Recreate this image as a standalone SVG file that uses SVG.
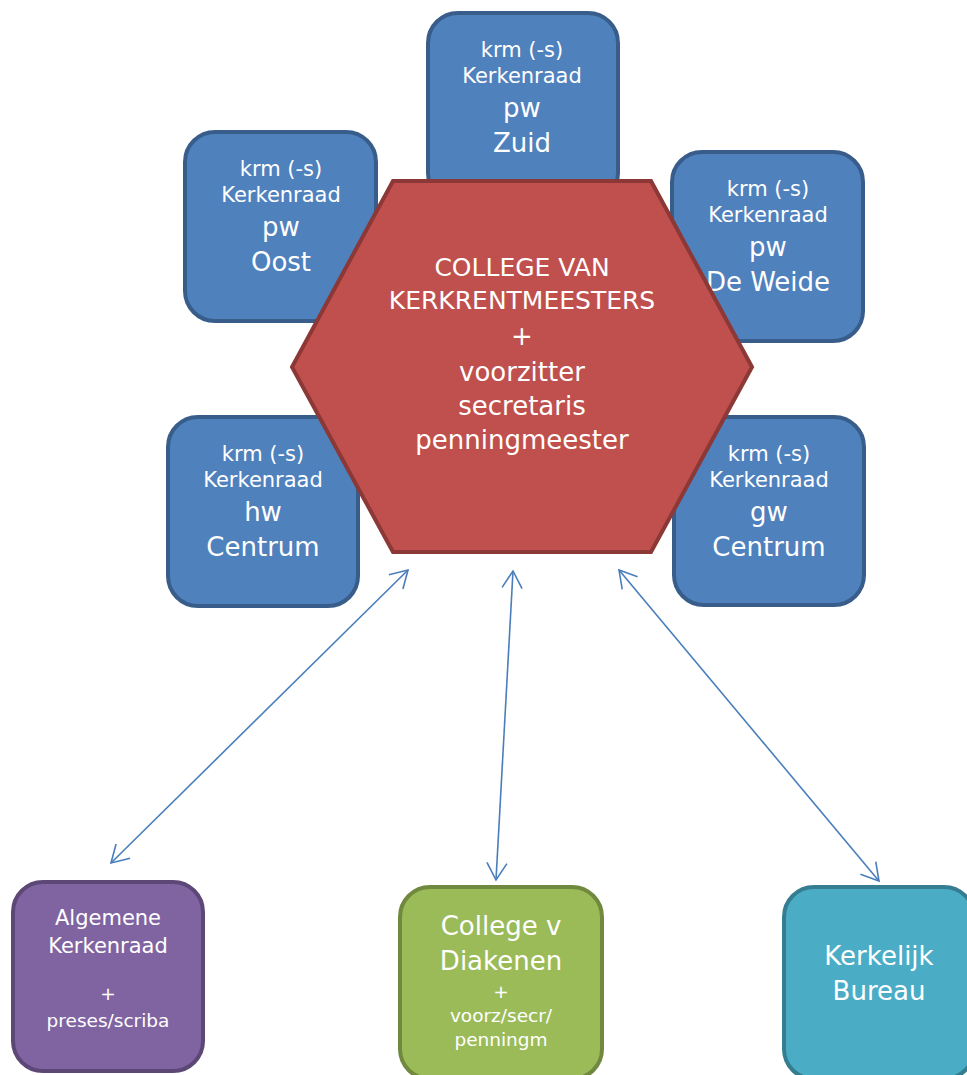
<svg xmlns="http://www.w3.org/2000/svg" width="967" height="1075" viewBox="0 0 967 1075">
<style>
text{font-family:"DejaVu Sans","Verdana",sans-serif;fill:#FFFFFF;text-anchor:middle}
.blue{fill:#4F81BD;stroke:#385D8A;stroke-width:4}
.s{font-size:21px}
.m{font-size:26px}
.h1{font-size:25px}
.p{font-size:18.5px}
.conn{stroke:#4A7EBB;stroke-width:1.6;fill:none;marker-start:url(#arr);marker-end:url(#arr)}
</style>
<defs>
<marker id="arr" viewBox="0 0 20 24" refX="18" refY="12" markerWidth="20" markerHeight="24" markerUnits="userSpaceOnUse" orient="auto-start-reverse">
<path d="M1,2 L18,12 L1,22" fill="none" stroke="#4A7EBB" stroke-width="1.6"/>
</marker>
</defs>
<rect width="967" height="1075" fill="#FFFFFF"/>
<g id="zuid">
<rect class="blue" x="428" y="13" width="190" height="190" rx="30"/>
<text class="s" x="522" y="57">krm (-s)</text>
<text class="s" x="522" y="83">Kerkenraad</text>
<text class="m" x="522" y="117">pw</text>
<text class="m" x="522" y="152">Zuid</text>
</g>
<g id="oost">
<rect class="blue" x="185" y="132" width="191" height="189" rx="30"/>
<text class="s" x="281" y="176">krm (-s)</text>
<text class="s" x="281" y="202">Kerkenraad</text>
<text class="m" x="281" y="236">pw</text>
<text class="m" x="281" y="271">Oost</text>
</g>
<g id="deweide">
<rect class="blue" x="672" y="152" width="191" height="189" rx="30"/>
<text class="s" x="768" y="196">krm (-s)</text>
<text class="s" x="768" y="222">Kerkenraad</text>
<text class="m" x="768" y="256">pw</text>
<text class="m" x="768" y="291">De Weide</text>
</g>
<g id="hwcentrum">
<rect class="blue" x="168" y="417" width="190" height="189" rx="30"/>
<text class="s" x="263" y="461">krm (-s)</text>
<text class="s" x="263" y="487">Kerkenraad</text>
<text class="m" x="263" y="521">hw</text>
<text class="m" x="263" y="556">Centrum</text>
</g>
<g id="gwcentrum">
<rect class="blue" x="674" y="417" width="190" height="188" rx="30"/>
<text class="s" x="769" y="461">krm (-s)</text>
<text class="s" x="769" y="487">Kerkenraad</text>
<text class="m" x="769" y="521">gw</text>
<text class="m" x="769" y="556">Centrum</text>
</g>
<g id="college">
<polygon points="393,181 651,181 752,367 651,552 393,552 292,367" fill="#C0504D" stroke="#8C3836" stroke-width="4" stroke-linejoin="miter"/>
<text class="h1" x="522" y="276">COLLEGE VAN</text>
<text class="h1" x="522" y="309">KERKRENTMEESTERS</text>
<text class="m" x="522" y="345">+</text>
<text class="m" x="522" y="381">voorzitter</text>
<text class="m" x="522" y="415">secretaris</text>
<text class="m" x="522" y="449">penningmeester</text>
</g>
<g id="connectors">
<line class="conn" x1="408" y1="570" x2="111" y2="863"/>
<line class="conn" x1="513" y1="571" x2="496" y2="880"/>
<line class="conn" x1="619" y1="570" x2="879" y2="881"/>
</g>
<g id="algemene">
<rect x="13" y="882" width="190" height="189" rx="30" fill="#8064A2" stroke="#5C4776" stroke-width="4"/>
<text x="108" y="925" style="font-size:21px">Algemene</text>
<text x="108" y="953" style="font-size:21px">Kerkenraad</text>
<text class="p" x="108" y="1000">+</text>
<text class="p" x="108" y="1027">preses/scriba</text>
</g>
<g id="diakenen">
<rect x="400" y="887" width="202" height="192" rx="30" fill="#9BBB59" stroke="#71893F" stroke-width="4"/>
<text class="m" x="501" y="935">College v</text>
<text class="m" x="501" y="970">Diakenen</text>
<text class="p" x="501" y="998">+</text>
<text class="p" x="501" y="1022">voorz/secr/</text>
<text class="p" x="501" y="1046">penningm</text>
</g>
<g id="bureau">
<rect x="784" y="887" width="190" height="192" rx="30" fill="#4BACC6" stroke="#357D91" stroke-width="4"/>
<text class="m" x="879" y="965">Kerkelijk</text>
<text class="m" x="879" y="1000">Bureau</text>
</g>
</svg>
